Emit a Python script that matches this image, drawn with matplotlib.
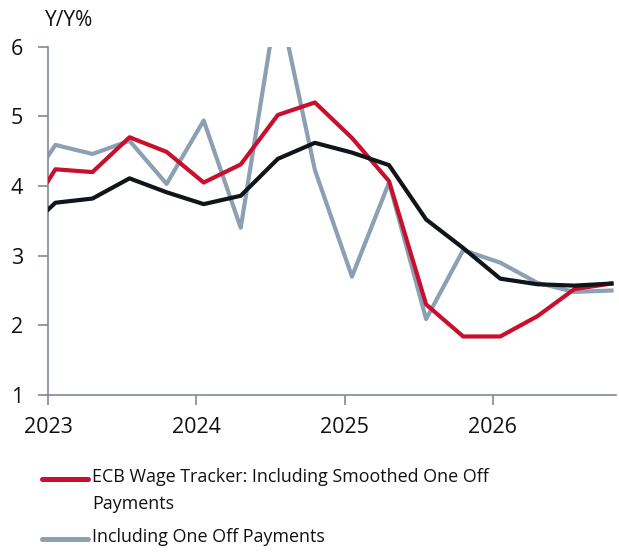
import matplotlib.pyplot as plt
from matplotlib.lines import Line2D

plt.rcParams['font.family'] = ['Open Sans', 'DejaVu Sans']

# quarterly points (fractional year)
x = [2023.0, 2023.05, 2023.30, 2023.55, 2023.80, 2024.05, 2024.30, 2024.55, 2024.80,
     2025.05, 2025.30, 2025.55, 2025.80, 2026.05, 2026.30, 2026.55, 2026.80]

smoothed = [4.07, 4.24, 4.20, 4.70, 4.49, 4.05, 4.31, 5.02, 5.20,
            4.69, 4.07, 2.30, 1.84, 1.84, 2.13, 2.52, 2.60]
one_off = [4.43, 4.59, 4.46, 4.65, 4.03, 4.94, 3.40, 6.72, 4.23,
           2.70, 4.05, 2.09, 3.08, 2.90, 2.61, 2.48, 2.50]
excl = [3.66, 3.76, 3.82, 4.11, 3.91, 3.74, 3.86, 4.39, 4.62,
        4.48, 4.30, 3.52, 3.11, 2.67, 2.59, 2.57, 2.60]

years = [2023, 2024, 2025, 2026]
yticks = [1, 2, 3, 4, 5, 6]
legend_labels = ['ECB Wage Tracker: Including Smoothed One Off\nPayments',
                 'Including One Off Payments']

red = '#C8102E'
grey = '#8CA0B4'
axis_col = '#7F8A96'

fig = plt.figure(figsize=(6.19, 5.56), dpi=100)
ax = fig.add_axes([0.0775, 0.2896, 0.9175, 0.6264])

ax.plot(x, one_off, color=grey, lw=3.0, zorder=2)
ax.plot(x, smoothed, color=red, lw=3.0, zorder=3)
ax.plot(x, excl, color='#111418', lw=3.0, zorder=4)

ax.set_xlim(2023.0, 2026.83)
ax.set_ylim(1, 6)
ax.set_xticks(years)
ax.set_xticklabels([str(y) for y in years])
ax.set_yticks(yticks)

for s in ['top', 'right']:
    ax.spines[s].set_visible(False)
for s in ['left', 'bottom']:
    ax.spines[s].set_color(axis_col)
    ax.spines[s].set_linewidth(1.2)
ax.tick_params(colors=axis_col, labelcolor='#111111', labelsize=15.5, length=7, width=1.2)
ax.tick_params(axis='y', pad=11)
ax.tick_params(axis='x', pad=9)

fig.text(0.073, 0.964, 'Y/Y%', fontsize=15, color='#111111', va='center', ha='left')

# legend drawn by hand: handle on the first text line, 30 px line pitch
rows = [(red, legend_labels[0], 1 - 479 / 556), (grey, legend_labels[1], 1 - 539 / 556)]
for col, lab, yy in rows:
    fig.add_artist(Line2D([42 / 619, 88 / 619], [yy, yy], color=col, lw=3.6,
                          solid_capstyle='round', transform=fig.transFigure))
    fig.text(92 / 619, yy + 10.5 / 556, lab, fontsize=12.9, color='#111111',
             va='top', ha='left', linespacing=1.62)

fig.savefig('out.png', dpi=100)
